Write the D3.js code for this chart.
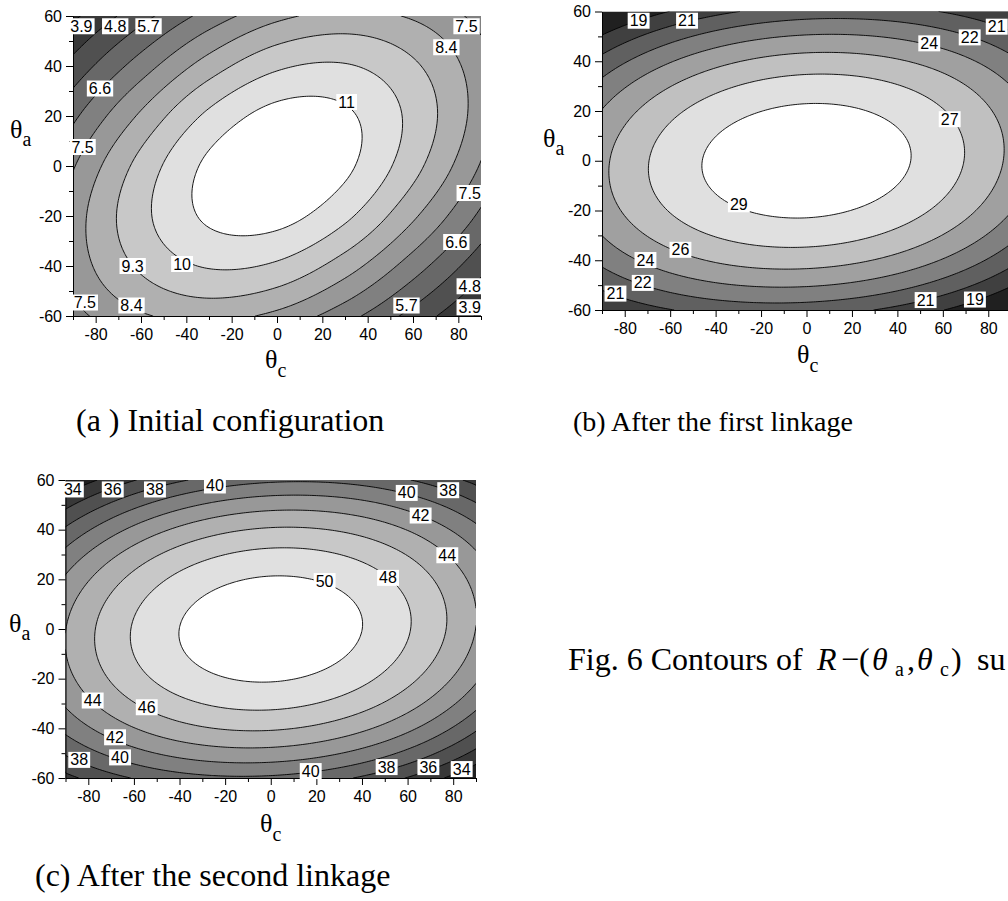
<!DOCTYPE html>
<html>
<head>
<meta charset="utf-8">
<script src="https://cdn.jsdelivr.net/npm/d3@7"></script>
<style>
  body { margin: 0; background: #fff; }
  svg { display: block; }
</style>
</head>
<body>
<svg id="fig" width="1008" height="901"></svg>
<script>
// grid nodes of the sampled surfaces (degrees)
const thetaC = [-90, -60, -30, 0, 30, 60, 90]
const thetaA = [60, 40, 20, 0, -20, -40, -60]

// axis ticks
const xTicks = [-80, -60, -40, -20, 0, 20, 40, 60, 80]
const xMinor = [-90, -70, -50, -30, -10, 10, 30, 50, 70, 90]
const yTicks = [-60, -40, -20, 0, 20, 40, 60]
const yMinor = [-50, -30, -10, 10, 30, 50]

// (a) initial configuration, rows follow thetaA, columns thetaC
const gridA = [
  [3.72, 5.37, 6.95, 8.16, 8.65, 8.28, 7.16],
  [5.10, 7.04, 8.83, 10.04, 10.27, 9.45, 7.86],
  [6.40, 8.55, 10.40, 11.42, 11.25, 9.94, 7.95],
  [7.42, 9.61, 11.29, 11.94, 11.29, 9.61, 7.42],
  [7.95, 9.94, 11.25, 11.42, 10.40, 8.55, 6.40],
  [7.86, 9.45, 10.27, 10.04, 8.83, 7.04, 5.10],
  [7.16, 8.28, 8.65, 8.16, 6.95, 5.37, 3.72]
]
const levelsA = [3.9, 4.8, 5.7, 6.6, 7.5, 8.4, 9.3, 10.2, 11.1]
const labelsA = [
  ['3.9', -86.3, 56], ['4.8', -71.4, 56], ['5.7', -56.7, 56], ['7.5', 83.6, 56],
  ['8.4', 74.7, 47.6], ['6.6', -78.1, 31.1], ['11', 30.7, 25.7], ['7.5', -85.8, 7.7],
  ['7.5', 85, -10.7], ['6.6', 79.1, -30.3], ['9.3', -63.7, -39.9], ['10', -41.9, -39.1],
  ['4.8', 85, -48], ['5.7', 57.1, -55.7], ['3.9', 85, -56.4], ['7.5', -84.8, -54.5],
  ['8.4', -64.2, -55.7]
]

// (b) after the first linkage
const gridB = [
  [16.64, 19.04, 20.64, 21.43, 21.41, 20.59, 18.96],
  [21.18, 23.87, 25.59, 26.33, 26.10, 24.90, 22.73],
  [24.05, 26.87, 28.60, 29.27, 28.86, 27.38, 24.83],
  [25.27, 28.04, 29.70, 30.25, 29.70, 28.04, 25.27],
  [24.83, 27.38, 28.86, 29.27, 28.60, 26.87, 24.05],
  [22.73, 24.90, 26.10, 26.33, 25.59, 23.87, 21.18],
  [18.96, 20.59, 21.41, 21.43, 20.64, 19.04, 16.64]
]
const levelsB = [19.0, 20.66, 22.32, 23.98, 25.64, 27.3, 28.96]
const labelsB = [
  ['19', -73.9, 56.4], ['21', -52.6, 56.4], ['24', 54, 47.3], ['22', 71.8, 49.7],
  ['21', 83.7, 54], ['27', 63, 16.8], ['29', -29.8, -17.4], ['26', -55.5, -35.7],
  ['24', -70.9, -39.8], ['22', -72.1, -49], ['21', -84.1, -53.3], ['21', 52.4, -55.9],
  ['19', 74.1, -55.7]
]

// (c) after the second linkage
const gridC = [
  [32.06, 35.89, 38.41, 39.62, 39.52, 38.10, 35.37],
  [38.30, 42.46, 45.09, 46.22, 45.83, 43.93, 40.52],
  [42.28, 46.54, 49.18, 50.18, 49.55, 47.28, 43.38],
  [43.97, 48.15, 50.66, 51.50, 50.66, 48.15, 43.97],
  [43.38, 47.28, 49.55, 50.18, 49.18, 46.54, 42.28],
  [40.52, 43.93, 45.83, 46.22, 45.09, 42.46, 38.30],
  [35.37, 38.10, 39.52, 39.62, 38.41, 35.89, 32.06]
]
const levelsC = [34, 36, 38, 40, 42, 44, 46, 48, 50]
const labelsC = [
  ['34', -86.8, 56.3], ['36', -69.3, 56.3], ['38', -50.8, 56.3], ['40', -24.5, 57.9],
  ['40', 59.6, 54.9], ['38', 77.8, 56], ['42', 65.7, 45.8], ['44', 77.4, 29.8],
  ['48', 51.4, 20.7], ['50', 23.6, 19.4], ['44', -78.1, -28.7], ['46', -54.4, -31.4],
  ['42', -68.3, -43.5], ['40', -66.1, -51.6], ['38', -84, -52.6], ['40', 17.5, -57.1],
  ['38', 50.8, -55.5], ['36', 69.1, -55.5], ['34', 83.7, -56.3]
]

const captions = [
  ['(a ) Initial configuration', 76, 431, 32],
  ['(b) After the first linkage', 573, 431, 28],
  ['(c) After the second linkage', 35, 886, 32]
]

// band greys, darkest below the first level, white above the last
const grey10 = ['#202020', '#383838', '#505050', '#686868', '#808080', '#989898', '#b0b0b0', '#c8c8c8', '#e0e0e0', '#ffffff']
const grey8 = ['#202020', '#404040', '#606060', '#808080', '#a0a0a0', '#c0c0c0', '#e0e0e0', '#ffffff']

const panels = [
  { id: 'a', grid: gridA, levels: levelsA, labels: labelsA, fills: grey10,
    box: [73, 16, 481, 316], yTitle: [10, 138], xTitle: [265, 368] },
  { id: 'b', grid: gridB, levels: levelsB, labels: labelsB, fills: grey8,
    box: [602, 11.5, 1011, 310], yTitle: [543, 147], xTitle: [797, 363] },
  { id: 'c', grid: gridC, levels: levelsC, labels: labelsC, fills: grey10,
    box: [65.5, 480, 476, 778], yTitle: [9, 632], xTitle: [260, 832] }
]

const SANS = 'Liberation Sans, Arial, sans-serif'
const SERIF = 'Liberation Serif, Times New Roman, serif'
const svg = d3.select('#fig')

// quadratic ghost node so the spline keeps its curvature at the border
function extend (arr) {
  const n = arr.length
  return [3 * arr[0] - 3 * arr[1] + arr[2], ...arr, 3 * arr[n - 1] - 3 * arr[n - 2] + arr[n - 3]]
}

function catmull (p0, p1, p2, p3, t) {
  return 0.5 * (2 * p1 + (p2 - p0) * t + (2 * p0 - 5 * p1 + 4 * p2 - p3) * t * t +
    (3 * p1 - p0 - 3 * p2 + p3) * t * t * t)
}

// smooth lookup over the read grid
function surface (grid) {
  const rows = grid.map(extend)
  const top = []
  const bottom = []
  for (let j = 0; j < rows[0].length; j++) {
    const col = extend(rows.map(r => r[j]))
    top.push(col[0])
    bottom.push(col[col.length - 1])
  }
  const g = [top, ...rows, bottom]
  const dc = thetaC[1] - thetaC[0]
  const da = thetaA[1] - thetaA[0]
  return (c, a) => {
    const u = (c - thetaC[0]) / dc
    const v = (a - thetaA[0]) / da
    const i = Math.min(Math.max(Math.floor(u), 0), thetaC.length - 2)
    const k = Math.min(Math.max(Math.floor(v), 0), thetaA.length - 2)
    const t = u - i
    const s = v - k
    const r = [0, 1, 2, 3].map(m => {
      const row = g[k + m]
      return catmull(row[i], row[i + 1], row[i + 2], row[i + 3], t)
    })
    return catmull(r[0], r[1], r[2], r[3], s)
  }
}

function drawPanel (p) {
  const [left, top, right, bottom] = p.box
  const x = d3.scaleLinear().domain([-90, 90]).range([left, right])
  const y = d3.scaleLinear().domain([-60, 60]).range([bottom, top])

  // fine sampling, 1 degree steps
  const nx = 181
  const ny = 121
  const f = surface(p.grid)
  const values = new Float64Array(nx * ny)
  for (let j = 0; j < ny; j++) {
    for (let i = 0; i < nx; i++) values[j * nx + i] = f(-90 + i, 60 - j)
  }
  const bands = d3.contours().size([nx, ny]).thresholds(p.levels)(values)

  const proj = d3.geoTransform({
    point (px, py) { this.stream.point(x(-90 + px - 0.5), y(60 - py + 0.5)) }
  })
  const path = d3.geoPath(proj)

  svg.append('clipPath').attr('id', 'clip-' + p.id)
    .append('rect')
    .attr('x', left).attr('y', top)
    .attr('width', right - left).attr('height', bottom - top)

  const g = svg.append('g').attr('class', 'panel-' + p.id)
  const plot = g.append('g').attr('clip-path', `url(#clip-${p.id})`)

  plot.append('rect')
    .attr('x', left).attr('y', top)
    .attr('width', right - left).attr('height', bottom - top)
    .attr('fill', p.fills[0])

  plot.selectAll('path.band')
    .data(bands)
    .join('path')
    .attr('class', 'band')
    .attr('d', path)
    .attr('fill', (d, i) => p.fills[i + 1])

  plot.selectAll('path.iso')
    .data(bands)
    .join('path')
    .attr('class', 'iso')
    .attr('d', path)
    .attr('fill', 'none')
    .attr('stroke', '#000')
    .attr('stroke-width', 0.9)

  // axes
  const xAxis = g.append('g').attr('transform', `translate(0,${bottom})`)
    .call(d3.axisBottom(x).tickValues(xTicks).tickSize(7).tickSizeOuter(0).tickPadding(6).tickFormat(d => String(d)))
  g.append('g').attr('transform', `translate(0,${bottom})`)
    .call(d3.axisBottom(x).tickValues(xMinor).tickSize(4).tickSizeOuter(0).tickFormat(''))
    .select('.domain').remove()
  const yAxis = g.append('g').attr('transform', `translate(${left},0)`)
    .call(d3.axisLeft(y).tickValues(yTicks).tickSize(7).tickSizeOuter(0).tickPadding(4).tickFormat(d => String(d)))
  g.append('g').attr('transform', `translate(${left},0)`)
    .call(d3.axisLeft(y).tickValues(yMinor).tickSize(4).tickSizeOuter(0).tickFormat(''))
    .select('.domain').remove()

  g.selectAll('.tick text').attr('font-family', SANS).attr('font-size', 16).attr('fill', '#000')
  g.selectAll('.tick line, .domain').attr('stroke', '#000')
  xAxis.select('.domain').attr('stroke-width', 1)
  yAxis.select('.domain').attr('stroke-width', 1)

  // contour labels
  const lab = g.selectAll('g.clabel')
    .data(p.labels)
    .join('g')
    .attr('class', 'clabel')
    .attr('transform', d => `translate(${x(d[1])},${y(d[2])})`)
  lab.append('text')
    .attr('text-anchor', 'middle')
    .attr('dy', '0.36em')
    .attr('font-family', SANS)
    .attr('font-size', 16)
    .attr('fill', '#000')
    .text(d => d[0])
  lab.each(function () {
    const grp = d3.select(this)
    const bb = grp.select('text').node().getBBox()
    grp.insert('rect', 'text')
      .attr('x', bb.x - 2).attr('y', bb.y + 0.5)
      .attr('width', bb.width + 4).attr('height', bb.height - 1)
      .attr('fill', '#fff')
  })

  // axis titles
  const yt = g.append('text').attr('x', p.yTitle[0]).attr('y', p.yTitle[1])
    .attr('font-family', SERIF).attr('font-size', 26)
  yt.append('tspan').text('\u03b8')
  yt.append('tspan').attr('font-size', 20).attr('dy', 8).text('a')

  const xt = g.append('text').attr('x', p.xTitle[0]).attr('y', p.xTitle[1])
    .attr('font-family', SERIF).attr('font-size', 26)
  xt.append('tspan').text('\u03b8')
  xt.append('tspan').attr('font-size', 20).attr('dy', 9).text('c')
}

panels.forEach(drawPanel)

svg.selectAll('text.caption')
  .data(captions)
  .join('text')
  .attr('class', 'caption')
  .attr('x', d => d[1])
  .attr('y', d => d[2])
  .attr('font-family', SERIF)
  .attr('font-size', d => d[3])
  .text(d => d[0])

// figure title, spaced like the typeset original and ending at the page edge
const fig = svg.append('text').attr('y', 670)
  .attr('font-family', SERIF).attr('font-size', 32)
fig.append('tspan').attr('x', 568).text('Fig. 6 Contours of')
fig.append('tspan').attr('x', 817).attr('font-style', 'italic').text('R')
fig.append('tspan').attr('x', 841).text('\u2212(')
fig.append('tspan').attr('x', 872).attr('font-style', 'italic').text('\u03b8')
fig.append('tspan').attr('x', 895).attr('font-size', 20).attr('dy', 6).text('a')
fig.append('tspan').attr('x', 907).attr('dy', -6).text(',')
fig.append('tspan').attr('x', 917).attr('font-style', 'italic').text('\u03b8')
fig.append('tspan').attr('x', 940).attr('font-size', 20).attr('dy', 6).text('c')
fig.append('tspan').attr('x', 951).attr('dy', -6).text(')')
fig.append('tspan').attr('x', 977).text('su')
</script>
</body>
</html>
